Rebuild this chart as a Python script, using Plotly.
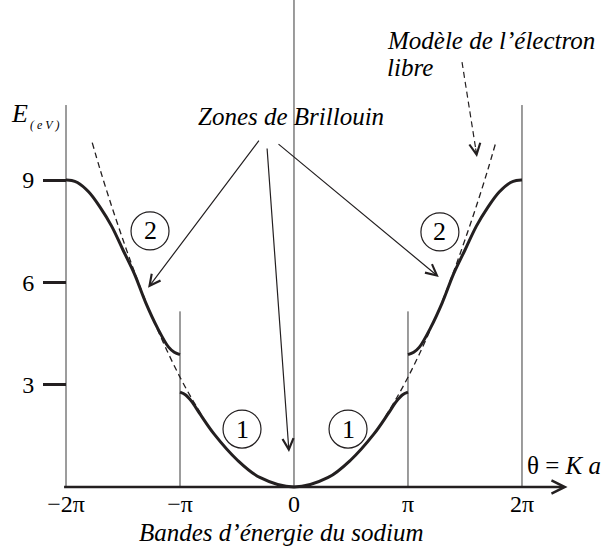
import plotly.graph_objects as go

# Reduced wave vector theta/pi and energy in eV
band1_t = [-1.0, -0.95, -0.9, -0.82, -0.7, -0.5, -0.3, 0.0, 0.3, 0.5, 0.7, 0.82, 0.9, 0.95, 1.0]
band1_e = [2.78, 2.7, 2.52, 2.12, 1.55, 0.8, 0.28, 0.0, 0.28, 0.8, 1.55, 2.12, 2.52, 2.7, 2.78]

# Second band, right half (the left half is its mirror image)
band2_t = [1.0, 1.05, 1.1, 1.2, 1.3, 1.4, 1.5, 1.6, 1.7, 1.8, 1.9, 1.95, 2.0]
band2_e = [3.88, 3.95, 4.1, 4.68, 5.4, 6.25, 6.95, 7.65, 8.2, 8.65, 8.93, 8.99, 9.0]

# Free-electron parabola, visible pieces (right half)
free_mid_t = [0.8, 0.9, 1.0, 1.1, 1.2]
free_mid_e = [2.06, 2.61, 3.22, 3.9, 4.64]
free_top_t = [1.3, 1.4, 1.5, 1.6, 1.7, 1.77]
free_top_e = [5.44, 6.31, 7.25, 8.24, 9.3, 10.1]

# Brillouin zone boundaries and the height of each drawn boundary line
zone_t = [-2, -1, 0, 1, 2]
zone_top = [11.2, 5.15, 14.3, 5.15, 11.2]

x_tickvals = [-2, -1, 0, 1, 2]
x_ticktext = ["\u22122\u03c0", "\u2212\u03c0", "0", "\u03c0", "2\u03c0"]
y_tickvals = [3, 6, 9]
y_ticktext = ["3", "6", "9"]

X_RANGE = [-2.579, 2.737]
Y_RANGE = [-1.847, 14.28]

SERIF = "'Liberation Serif', 'Times New Roman', 'DejaVu Serif', serif"
INK = "#231f20"
GREY = "#3a3a3a"


def mirror(ts, es):
    return [-t for t in reversed(ts)], list(reversed(es))


fig = go.Figure()

# zone boundary lines
for t, top in zip(zone_t, zone_top):
    fig.add_trace(go.Scatter(x=[t, t], y=[0, top], mode="lines",
                             line=dict(color=GREY, width=1), hoverinfo="skip"))

# free-electron model (dashed)
fx, fy = [], []
for ts, es in [(free_mid_t, free_mid_e), (free_top_t, free_top_e)]:
    lt, le = mirror(ts, es)
    fx += lt + [None] + ts + [None]
    fy += le + [None] + es + [None]
fig.add_trace(go.Scatter(x=fx, y=fy, mode="lines", connectgaps=False,
                         line=dict(color=INK, width=1.3, dash="6px,4px", shape="spline"),
                         hoverinfo="skip"))

# energy bands
fig.add_trace(go.Scatter(x=band1_t, y=band1_e, mode="lines",
                         line=dict(color=INK, width=3, shape="spline"), hoverinfo="skip"))
lt, le = mirror(band2_t, band2_e)
for xs, ys in [(lt, le), (band2_t, band2_e)]:
    fig.add_trace(go.Scatter(x=xs, y=ys, mode="lines",
                             line=dict(color=INK, width=3, shape="spline"), hoverinfo="skip"))

annotations = []

# horizontal axis with arrow
annotations.append(dict(x=2.40, y=0, ax=-2.03, ay=0, xref="x", yref="y", axref="x", ayref="y",
                        text="", showarrow=True, arrowhead=5, arrowsize=1, arrowwidth=2.6,
                        arrowcolor=INK))

# arrows from the "Zones de Brillouin" label
for (x0, y0), (x1, y1) in [((-0.298, 10.2), (-1.28, 5.84)),
                           ((-0.237, 9.97), (-0.044, 1.03)),
                           ((-0.149, 10.09), (1.27, 6.16))]:
    annotations.append(dict(x=x1, y=y1, ax=x0, ay=y0, xref="x", yref="y", axref="x", ayref="y",
                            text="", showarrow=True, arrowhead=5, arrowsize=1.8, arrowwidth=1.2,
                            arrowcolor=INK))

# dashed pointer to the free-electron curve
fig.add_trace(go.Scatter(x=[1.474, 1.602], y=[12.46, 9.75], mode="lines",
                         line=dict(color=INK, width=1.2, dash="6px,4px"), hoverinfo="skip"))
annotations.append(dict(x=1.605, y=9.68, ax=1.591, ay=9.97, xref="x", yref="y", axref="x", ayref="y",
                        text="", showarrow=True, arrowhead=5, arrowsize=1.8, arrowwidth=1.2,
                        arrowcolor=INK))

def label(x, y, text, size=24, xanchor="center"):
    annotations.append(dict(x=x, y=y, xref="x", yref="y", text=text, showarrow=False,
                            xanchor=xanchor, yanchor="middle",
                            font=dict(family=SERIF, size=size, color="black")))

label(-0.026, 10.85, "<i>Zones de Brillouin</i>", size=25)
label(0.80, 13.1, "<i>Mod\u00e8le de l\u2019\u00e9lectron</i>", size=25, xanchor="left")
label(0.80, 12.3, "<i>libre</i>", size=25, xanchor="left")
label(-2.404, 10.95, "<i>E</i>", size=26)
label(-2.19, 10.62, "<i>( e V )</i>", size=12)
label(2.37, 0.62, "\u03b8 = <i>K a</i>", size=25)
label(-0.11, -1.32, "<i>Bandes d\u2019\u00e9nergie du sodium</i>", size=25)

# circled band numbers
shapes = []
for cx, cy, num in [(-1.263, 7.51, "2"), (1.28, 7.48, "2"), (-0.456, 1.70, "1"), (0.474, 1.70, "1")]:
    shapes.append(dict(type="circle", xref="x", yref="y", xsizemode="pixel", ysizemode="pixel",
                       xanchor=cx, yanchor=cy, x0=-19, x1=19, y0=-19, y1=19,
                       line=dict(color=INK, width=1.2)))
    label(cx, cy, num, size=26)

fig.update_layout(
    width=606, height=550,
    margin=dict(l=0, r=0, t=0, b=0),
    paper_bgcolor="white", plot_bgcolor="white",
    showlegend=False,
    annotations=annotations,
    shapes=shapes,
    xaxis=dict(range=X_RANGE, domain=[0, 1], anchor="free",
               position=(0 - Y_RANGE[0]) / (Y_RANGE[1] - Y_RANGE[0]),
               showgrid=False, zeroline=False, showline=False, ticks="",
               tickvals=x_tickvals, ticktext=x_ticktext, ticklabelstandoff=0,
               tickfont=dict(family=SERIF, size=24, color="black")),
    yaxis=dict(range=Y_RANGE, domain=[0, 1], anchor="free",
               position=(-2 - X_RANGE[0]) / (X_RANGE[1] - X_RANGE[0]),
               showgrid=False, zeroline=False, showline=False,
               ticks="outside", ticklen=23, tickwidth=2.6, tickcolor=INK,
               tickvals=y_tickvals, ticktext=y_ticktext, ticklabelstandoff=4,
               tickfont=dict(family=SERIF, size=24, color="black")),
)

fig.write_html("out.html")
